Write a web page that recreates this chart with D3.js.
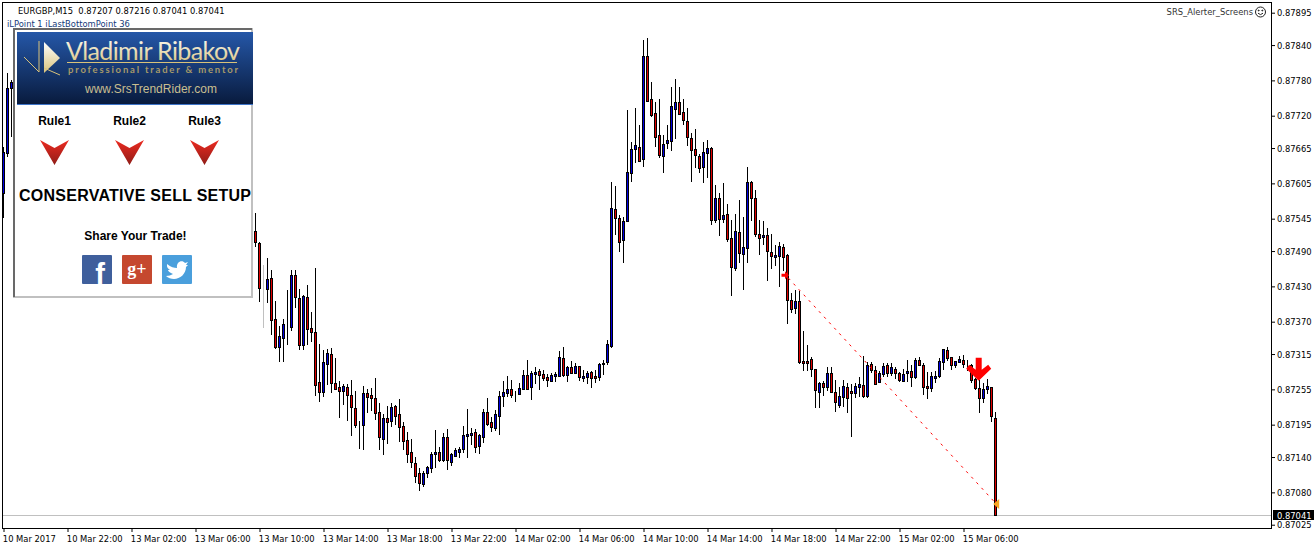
<!DOCTYPE html>
<html>
<head>
<meta charset="utf-8">
<title>EURGBP,M15</title>
<script src="https://cdn.jsdelivr.net/npm/d3@7"></script>
<style>
  html, body { margin: 0; padding: 0; background: #fff; overflow: hidden; }
  svg { display: block; }
  .mt { font-family: "DejaVu Sans Condensed", "DejaVu Sans", sans-serif; font-stretch: condensed; font-size: 9.3px; fill: #000; }
  .panelText { font-family: "Liberation Sans", Arial, sans-serif; font-weight: bold; fill: #000; }
</style>
</head>
<body>
<svg id="chart" width="1314" height="549"></svg>
<script>
// all prices are points above 0.87000, bars 3-62 sit behind the panel and are not listed
const leftBars = 3;
const hiddenBars = 60;

const opens = [
  589, 657, 767,
  524, 504, 429, 426, 444, 375, 327, 342, 365, 361,
  449, 410, 331, 412, 359, 353, 268, 251, 298, 315,
  266, 259, 252, 259, 245, 223, 198, 194, 249, 245,
  240, 217, 171, 206, 201, 227, 213, 193, 169, 149,
  130, 113, 94, 113, 121, 145, 149, 135, 174, 132,
  142, 149, 154, 176, 177, 183, 159, 174, 217, 200,
  189, 210, 244, 249, 256, 249, 247, 256, 279, 259,
  281, 286, 281, 276, 269, 278, 278, 308, 279, 293,
  283, 295, 274, 276, 285, 278, 276, 298, 302, 329,
  562, 546, 509, 541, 623, 664, 667, 647, 822, 749,
  725, 687, 652, 674, 677, 732, 744, 727, 711, 682,
  664, 652, 633, 657, 665, 543, 580, 545, 553, 512,
  461, 523, 485, 495, 608, 580, 519, 514, 517, 489,
  480, 482, 497, 483, 407, 393, 405, 303, 303, 307,
  290, 251, 266, 259, 283, 251, 229, 242, 259, 252,
  249, 259, 262, 244, 298, 288, 268, 281, 296, 283,
  290, 283, 269, 283, 286, 276, 305, 296, 261, 257,
  274, 278, 302, 322, 310, 296, 302, 305, 298, 296,
  273, 257, 240, 256, 259, 207
];
const highs = [
  667, 793, 781,
  555, 506, 466, 478, 458, 405, 363, 375, 424, 458,
  458, 426, 415, 432, 387, 461, 332, 322, 324, 325,
  308, 269, 264, 264, 271, 252, 201, 261, 256, 257,
  274, 232, 213, 227, 232, 229, 239, 200, 183, 171,
  140, 121, 116, 125, 149, 186, 157, 181, 188, 147,
  155, 157, 193, 222, 189, 188, 179, 222, 240, 208,
  220, 252, 269, 278, 271, 252, 266, 288, 305, 286,
  293, 290, 288, 281, 283, 285, 320, 327, 295, 303,
  300, 295, 288, 286, 286, 288, 300, 305, 339, 608,
  601, 551, 548, 730, 676, 733, 704, 849, 852, 778,
  744, 749, 687, 704, 769, 783, 769, 749, 733, 691,
  698, 655, 676, 679, 667, 602, 589, 606, 570, 543,
  553, 577, 548, 633, 609, 594, 543, 541, 529, 519,
  500, 506, 502, 485, 419, 424, 422, 354, 330, 310,
  290, 268, 269, 293, 293, 271, 259, 271, 266, 264,
  266, 276, 312, 302, 302, 295, 286, 300, 300, 300,
  293, 285, 290, 305, 296, 308, 310, 300, 285, 285,
  286, 308, 324, 327, 310, 303, 312, 313, 305, 298,
  274, 271, 266, 273, 259, 216
];
const lows = [
  546, 650, 684,
  497, 404, 359, 402, 347, 324, 302, 302, 331, 354,
  393, 322, 322, 331, 336, 244, 234, 242, 262, 249,
  256, 206, 229, 201, 176, 189, 154, 152, 215, 218,
  203, 152, 143, 162, 191, 194, 166, 152, 130, 121,
  96, 82, 89, 104, 113, 121, 132, 132, 118, 125,
  140, 138, 147, 138, 160, 147, 145, 164, 193, 183,
  184, 177, 225, 242, 240, 234, 245, 254, 256, 237,
  264, 254, 269, 259, 268, 268, 276, 276, 268, 281,
  281, 269, 268, 264, 257, 266, 269, 279, 296, 325,
  517, 489, 470, 541, 608, 640, 643, 633, 744, 718,
  667, 648, 623, 664, 660, 681, 721, 704, 669, 608,
  631, 623, 606, 614, 534, 538, 516, 538, 506, 414,
  456, 470, 424, 470, 541, 514, 483, 500, 439, 460,
  465, 429, 456, 366, 385, 383, 298, 286, 286, 276,
  223, 223, 244, 252, 249, 217, 223, 225, 215, 174,
  240, 242, 240, 240, 283, 262, 266, 276, 276, 278,
  273, 268, 268, 268, 259, 273, 295, 245, 239, 251,
  266, 274, 288, 303, 288, 291, 300, 291, 286, 266,
  254, 215, 232, 247, 200, 41
];
const closes = [
  659, 767, 778,
  506, 427, 429, 443, 373, 327, 346, 366, 365, 449,
  412, 331, 414, 358, 353, 262, 251, 302, 317, 266,
  256, 252, 261, 245, 225, 194, 198, 249, 242, 240,
  215, 174, 206, 200, 225, 210, 191, 167, 145, 132,
  108, 96, 113, 123, 145, 149, 135, 174, 135, 145,
  152, 154, 177, 179, 181, 157, 177, 217, 196, 191,
  213, 244, 251, 256, 245, 249, 257, 279, 256, 283,
  285, 279, 274, 271, 279, 281, 310, 279, 293, 283,
  295, 276, 278, 283, 274, 274, 298, 300, 332, 563,
  546, 506, 541, 625, 664, 670, 643, 822, 745, 721,
  684, 653, 672, 679, 737, 744, 723, 713, 684, 662,
  653, 631, 659, 665, 543, 580, 545, 551, 511, 463,
  524, 487, 497, 608, 580, 519, 512, 517, 490, 482,
  483, 499, 480, 407, 392, 405, 302, 300, 300, 290,
  254, 266, 259, 283, 251, 234, 244, 261, 240, 249,
  261, 264, 244, 296, 288, 264, 283, 295, 283, 293,
  283, 271, 281, 286, 276, 305, 296, 259, 257, 278,
  278, 303, 324, 308, 296, 303, 307, 298, 298, 271,
  257, 240, 256, 261, 210, 41
];

// the pale doji right next to the panel
const greyBars = [65];

const priceTicks = [895, 840, 780, 720, 665, 605, 545, 490, 430, 370, 315, 255, 195, 140, 80, 25];
const lastPrice = 41;

const timeBars = [0, 16, 32, 48, 64, 80, 96, 112, 128, 144, 160, 176, 192, 208, 224, 240];
const timeLabels = ["10 Mar 2017", "10 Mar 22:00", "13 Mar 02:00", "13 Mar 06:00", "13 Mar 10:00",
  "13 Mar 14:00", "13 Mar 18:00", "13 Mar 22:00", "14 Mar 02:00", "14 Mar 06:00", "14 Mar 10:00",
  "14 Mar 14:00", "14 Mar 18:00", "14 Mar 22:00", "15 Mar 02:00", "15 Mar 06:00"];

const zigzagBars = [195.5, 248.3];
const zigzagPrices = [449, 60];
const sellArrow = { bar: 243.8, price: 290 };

const priceLabel = (v) => "0.87" + String(v).padStart(3, "0");

const svg = d3.select("#chart");
const defs = svg.append("defs");

const x = d3.scaleLinear().domain([0, 248]).range([3.5, 995.5]);
const y = d3.scaleLinear().domain([41, 895]).range([515.3, 12.7]);

const bars = opens.map((open, n) => ({
  index: n < leftBars ? n : n + hiddenBars,
  open,
  high: highs[n],
  low: lows[n],
  close: closes[n],
}));

// last price line under the candles
svg.append("line")
  .attr("x1", 3).attr("x2", 1272)
  .attr("y1", Math.round(y(lastPrice)) + 0.5).attr("y2", Math.round(y(lastPrice)) + 0.5)
  .attr("stroke", "#c0c0c0");

const candles = svg.append("g").attr("shape-rendering", "crispEdges")
  .selectAll("g").data(bars).enter().append("g");

const barPx = (d) => Math.floor(x(d.index));
const isGrey = (d) => greyBars.includes(d.index);

candles.append("rect")
  .attr("x", barPx)
  .attr("y", (d) => Math.round(y(d.high)))
  .attr("width", 1)
  .attr("height", (d) => Math.max(1, Math.round(y(d.low)) - Math.round(y(d.high))))
  .attr("fill", (d) => (isGrey(d) ? "#c0c0c0" : "#000"));

candles.append("rect")
  .attr("x", (d) => barPx(d) - 0.5)
  .attr("y", (d) => Math.round(y(Math.max(d.open, d.close))) + 0.5)
  .attr("width", 2)
  .attr("height", (d) => Math.abs(Math.round(y(d.open)) - Math.round(y(d.close))))
  .attr("fill", (d) => (d.close > d.open ? "#0000e0" : "#e00000"))
  .attr("stroke", (d) => (isGrey(d) ? "#c0c0c0" : "#000"));

// zigzag line and its end markers
svg.append("line")
  .attr("x1", x(zigzagBars[0]) + 3).attr("y1", y(zigzagPrices[0]) + 3)
  .attr("x2", x(zigzagBars[1]) - 3).attr("y2", y(zigzagPrices[1]) - 3)
  .attr("stroke", "#ff0000")
  .attr("stroke-dasharray", "2.5 5");

const zx = x(zigzagBars[0]), zy = y(zigzagPrices[0]);
svg.append("path")
  .attr("d", `M${zx - 4},${zy - 1.5}h3.5v-2.5l4,4l-4,4v-2.5h-3.5z`)
  .attr("fill", "#ff0000");

const ex = x(zigzagBars[1]), ey = y(zigzagPrices[1]);
svg.append("path")
  .attr("d", `M${ex - 3.5},${ey}L${ex + 2.5},${ey - 5}V${ey + 5}Z`)
  .attr("fill", "#f5a623");

// big sell arrow
const ax = x(sellArrow.bar), ay = y(sellArrow.price);
svg.append("path")
  .attr("d", `M${ax - 3},${ay - 11}h6v12l6.5,-5l3,4l-12.5,12l-12.5,-12l3,-4l6.5,5z`)
  .attr("fill", "#ff0000");

// frame
svg.append("rect")
  .attr("x", 2.5).attr("y", 2.5).attr("width", 1269).attr("height", 525.5)
  .attr("fill", "none").attr("stroke", "#000").attr("shape-rendering", "crispEdges");

// axes
const priceAxis = d3.axisRight(y)
  .tickValues(priceTicks)
  .tickFormat(priceLabel)
  .tickSize(3)
  .tickPadding(2);
const priceG = svg.append("g").attr("transform", "translate(1272,0)").call(priceAxis);
priceG.select(".domain").remove();
priceG.selectAll("text").attr("class", "mt");
priceG.selectAll("line").attr("stroke", "#000");

const timeAxis = d3.axisBottom(x)
  .tickValues(timeBars)
  .tickFormat((d, n) => timeLabels[n])
  .tickSize(4)
  .tickPadding(3);
const timeG = svg.append("g").attr("transform", "translate(0,528)").call(timeAxis);
timeG.select(".domain").remove();
timeG.selectAll("text").attr("class", "mt").attr("text-anchor", "start").attr("dx", -1.2);
timeG.selectAll("line").attr("stroke", "#000");

// current price box
svg.append("rect")
  .attr("x", 1273).attr("y", Math.round(y(lastPrice)) - 5).attr("width", 41).attr("height", 10)
  .attr("fill", "#000");
svg.append("text")
  .attr("class", "mt")
  .attr("x", 1277).attr("y", y(lastPrice) + 4)
  .style("fill", "#fff")
  .text(priceLabel(lastPrice));

// chart header texts
svg.append("text").attr("class", "mt").attr("x", 18).attr("y", 14)
  .attr("xml:space", "preserve")
  .text("EURGBP,M15  0.87207 0.87216 0.87041 0.87041");
svg.append("text").attr("class", "mt").attr("x", 7).attr("y", 27)
  .style("fill", "#143a7a")
  .text("iLPoint 1 iLastBottomPoint 36");
svg.append("text").attr("class", "mt").attr("x", 1253).attr("y", 15)
  .attr("text-anchor", "end").style("fill", "#333")
  .text("SRS_Alerter_Screens");

const smile = svg.append("g").attr("transform", "translate(1260.5,12)")
  .attr("fill", "none").attr("stroke", "#222");
smile.append("circle").attr("r", 5);
smile.append("path").attr("d", "M-2.5,1.2Q0,4 2.5,1.2");
smile.append("circle").attr("cx", -1.8).attr("cy", -1.5).attr("r", 0.5).attr("fill", "#222");
smile.append("circle").attr("cx", 1.8).attr("cy", -1.5).attr("r", 0.5).attr("fill", "#222");

// signal panel
const banner = defs.append("linearGradient").attr("id", "banner").attr("x2", 0).attr("y2", 1);
banner.append("stop").attr("offset", 0).attr("stop-color", "#2557a8");
banner.append("stop").attr("offset", 1).attr("stop-color", "#081a3c");

const gold = defs.append("linearGradient").attr("id", "gold").attr("x2", 0).attr("y2", 1);
gold.append("stop").attr("offset", 0).attr("stop-color", "#ffffff");
gold.append("stop").attr("offset", 1).attr("stop-color", "#d9c27a");

const red = defs.append("linearGradient").attr("id", "redDown").attr("x2", 0).attr("y2", 1);
red.append("stop").attr("offset", 0).attr("stop-color", "#ec2a20");
red.append("stop").attr("offset", 1).attr("stop-color", "#8f1d18");

const panel = svg.append("g");
panel.append("rect").attr("x", 14).attr("y", 29).attr("width", 238).attr("height", 268)
  .attr("fill", "#fff").attr("stroke", "#c0c0c0").attr("stroke-width", 2)
  .attr("shape-rendering", "crispEdges");
panel.append("path").attr("d", "M14,297V29H252")
  .attr("fill", "none").attr("stroke", "#696969").attr("stroke-width", 2);

panel.append("rect").attr("x", 17).attr("y", 32).attr("width", 236).attr("height", 73)
  .attr("fill", "url(#banner)");
panel.append("rect").attr("x", 17).attr("y", 104).attr("width", 236).attr("height", 1)
  .attr("fill", "#3d74c8");

// banner logo
panel.append("path").attr("d", "M44,42L60,58L44,73Z").attr("fill", "url(#gold)");
panel.append("path").attr("d", "M39,41V72M24,57L39,72M44,68L60,75")
  .attr("fill", "none").attr("stroke", "#d9c27a");

panel.append("text")
  .attr("x", 66).attr("y", 60)
  .attr("textLength", 174)
  .style("font-family", "Lato, sans-serif").style("font-size", "25px").style("font-weight", 400)
  .attr("fill", "url(#gold)")
  .text("Vladimir Ribakov");
panel.append("rect").attr("x", 67).attr("y", 62).attr("width", 170).attr("height", 1)
  .attr("fill", "#d9c27a");
panel.append("text")
  .attr("x", 68).attr("y", 73)
  .attr("textLength", 170)
  .style("font-family", "Lato, sans-serif").style("font-size", "9.5px").style("font-weight", 700)
  .attr("fill", "#a89a68")
  .text("professional trader & mentor");
panel.append("text")
  .attr("x", 85).attr("y", 93)
  .attr("textLength", 132)
  .style("font-family", "'Liberation Sans', sans-serif").style("font-size", "12px")
  .attr("fill", "#c9bf90")
  .text("www.SrsTrendRider.com");

const ruleNames = ["Rule1", "Rule2", "Rule3"];
const ruleCenters = [54.5, 129.5, 204.5];
ruleNames.forEach((name, n) => {
  const cx = ruleCenters[n];
  panel.append("text").attr("class", "panelText")
    .attr("x", cx).attr("y", 125).attr("text-anchor", "middle")
    .style("font-size", "12px")
    .text(name);
  panel.append("path")
    .attr("d", `M${cx - 14.5},140L${cx},148L${cx + 14.5},140L${cx},165Z`)
    .attr("fill", "url(#redDown)");
});

panel.append("text").attr("class", "panelText")
  .attr("x", 19).attr("y", 201)
  .attr("textLength", 232)
  .style("font-size", "16px")
  .text("CONSERVATIVE SELL SETUP");
panel.append("text").attr("class", "panelText")
  .attr("x", 135.5).attr("y", 240).attr("text-anchor", "middle")
  .style("font-size", "12px")
  .text("Share Your Trade!");

// share icons
panel.append("rect").attr("x", 82).attr("y", 255).attr("width", 30).attr("height", 29).attr("rx", 1).attr("fill", "#3f5f9c");
panel.append("text").attr("class", "panelText").attr("x", 100).attr("y", 284)
  .attr("text-anchor", "middle").style("font-size", "29px").style("fill", "#fff").text("f");
panel.append("rect").attr("x", 122).attr("y", 255).attr("width", 30).attr("height", 29).attr("rx", 1).attr("fill", "#c5482f");
panel.append("text").attr("class", "panelText").attr("x", 137).attr("y", 275)
  .attr("text-anchor", "middle").style("font-size", "18px").style("fill", "#fff")
  .style("font-family", "'Liberation Serif', serif").text("g+");
panel.append("rect").attr("x", 162).attr("y", 255).attr("width", 30).attr("height", 29).attr("rx", 1).attr("fill", "#4a9fdc");
panel.append("path")
  .attr("d", "M167,264C171,267 174,268 177,268C176,262 182,259 185,263L188,262L186,265L188,265L186,267C186,274 180,279 174,279C171,279 168,278 166,276C169,276 171,275 173,274C170,273 168,271 168,270L170,270C168,269 167,267 167,266Z")
  .attr("fill", "#fff");
</script>
</body>
</html>
